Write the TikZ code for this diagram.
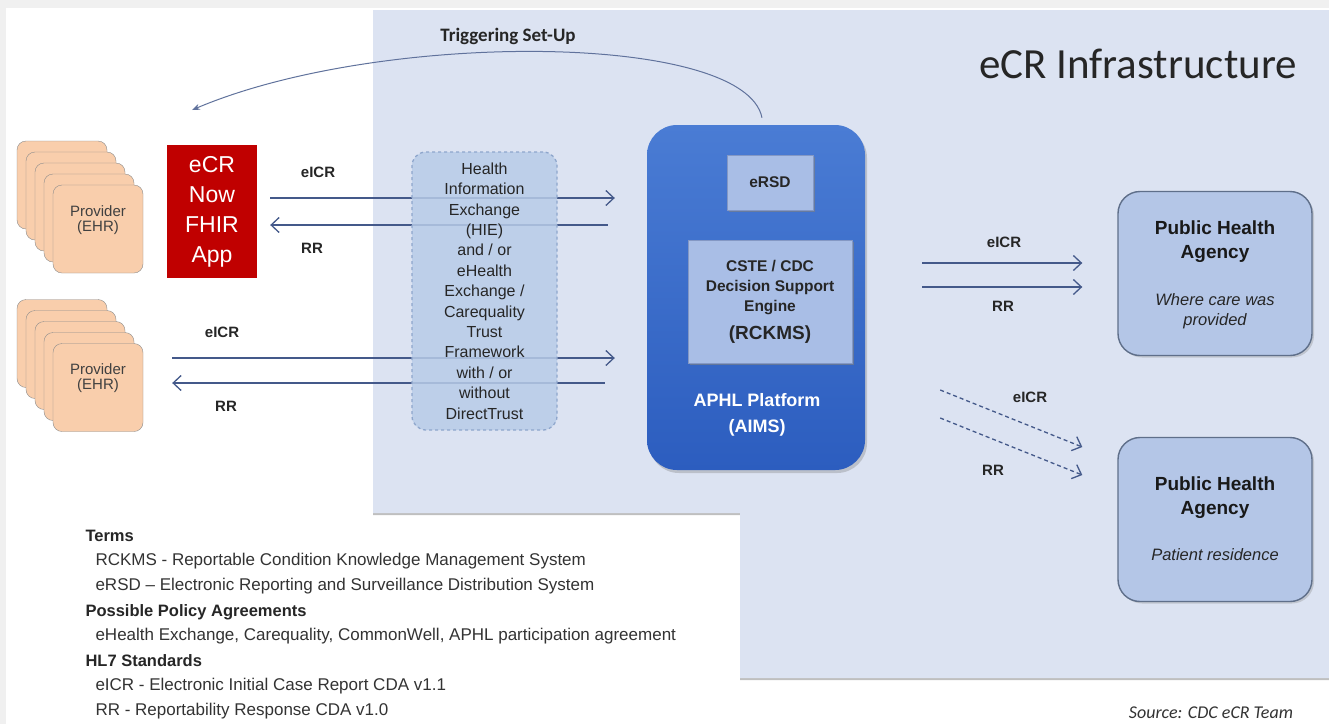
\documentclass[tikz,border=0pt]{standalone}
\usepackage{fontspec}
\setmainfont{Liberation Sans}
\newfontfamily\calib{Carlito}
\usetikzlibrary{arrows.meta,calc,shadows}

\definecolor{panelblue}{HTML}{DCE3F2}
\definecolor{peach}{HTML}{F9CEAC}
\definecolor{appred}{HTML}{C00000}
\definecolor{hieblue}{HTML}{B8CCE8}
\definecolor{hieedge}{HTML}{8EA6CC}
\definecolor{aimstop}{HTML}{4A7CD4}
\definecolor{aimsbot}{HTML}{2C5DBF}
\definecolor{innerblue}{HTML}{A9BEE6}
\definecolor{inneredge}{HTML}{8498C4}
\definecolor{phablue}{HTML}{B4C6E7}
\definecolor{phaedge}{HTML}{5F6F8A}
\definecolor{arrowblue}{HTML}{44598A}

\begin{document}
\begin{tikzpicture}[x=1pt,y=-1pt,
  provider/.style={draw=black!45,fill=peach,rounded corners=9pt,minimum width=90pt,minimum height=88pt},
  provtext/.style={align=center,font=\fontsize{15}{15}\selectfont,text=black!75},
  app/.style={fill=appred,minimum width=90pt,minimum height=133pt,align=center,text=white,
    font=\fontsize{23}{30}\selectfont},
  hie/.style={draw=hieedge,dashed,line width=1.3pt,fill=hieblue,fill opacity=0.85,text opacity=1,
    rounded corners=14pt,minimum width=145pt,minimum height=278pt,align=center,
    font=\fontsize{16}{20.4}\selectfont,text=black!85},
  aims/.style={rounded corners=30pt,top color=aimstop,bottom color=aimsbot,minimum width=218pt,
    minimum height=345pt,drop shadow={shadow xshift=2pt,shadow yshift=-3pt,opacity=0.35}},
  inner/.style={fill=innerblue,draw=inneredge,align=center,text=black!85,
    font=\bfseries\fontsize{15.5}{20}\selectfont,
    drop shadow={shadow xshift=2pt,shadow yshift=-2pt,opacity=0.6}},
  agency/.style={draw=phaedge,line width=1.4pt,fill=phablue,rounded corners=22pt,minimum width=194pt,
    minimum height=164pt,drop shadow={shadow xshift=2pt,shadow yshift=-2pt,opacity=0.3}},
  agencyname/.style={align=center,text=black!90,font=\bfseries\fontsize{19}{24}\selectfont},
  agencynote/.style={align=center,text=black!85,font=\itshape\fontsize{16.5}{20}\selectfont},
  flow/.style={draw=arrowblue,line width=1.3pt,-{Straight Barb[length=8pt,width=15pt,line width=1.3pt]}},
  dflow/.style={flow,dash pattern=on 4pt off 3pt},
  trig/.style={draw=arrowblue!85,line width=1pt,-{Stealth[length=8pt,width=6pt]}},
  lbl/.style={font=\bfseries\fontsize{15}{17}\selectfont,text=black!85},
  termhead/.style={anchor=west,font=\bfseries\fontsize{16.5}{18}\selectfont,text=black!85},
  termitem/.style={anchor=west,font=\fontsize{17}{19}\selectfont,text=black!80}]

  \useasboundingbox (0,0) rectangle (1329,724);
  \fill[black!6] (0,0) rectangle (1329,724);
  \fill[white] (6,8) rectangle (1329,724);
  \fill[panelblue,drop shadow={shadow xshift=0pt,shadow yshift=-2pt,opacity=0.5}]
    (373,10) -- (1329,10) -- (1329,678) -- (740,678) -- (740,513) -- (373,513) -- cycle;

  \node[font=\calib\fontsize{43}{45}\selectfont,text=black!85] (title) at (1138,64) {eCR Infrastructure};
  \node[font=\calib\bfseries\fontsize{19}{21}\selectfont,text=black!85] (trigLbl) at (508,36) {Triggering Set-Up};

  % provider stacks
  \foreach \i in {4,...,0} {
    \node[provider] (provA\i) at (98-9*\i,229-11*\i) {};
    \node[provider] (provB\i) at (98-9*\i,387.5-11*\i) {};
  }
  \node[provtext] (provAtxt) at ($(provA0)+(0,-9)$) {Provider\\(EHR)};
  \node[provtext] (provBtxt) at ($(provB0)+(0,-9)$) {Provider\\(EHR)};

  \node[app] (app) at (212,211.5) {eCR\\Now\\FHIR\\App};

  \node[aims] (aims) at (756,297.5) {};
  \node[inner,minimum width=86pt,minimum height=55pt] (ersd) at (770,182.5) {eRSD};
  \node[inner,minimum width=164pt,minimum height=123pt] (cste) at (770,301.5)
    {CSTE / CDC\\Decision Support\\Engine\\[8pt]{\fontsize{19}{20}\selectfont(RCKMS)}};
  \node[align=center,text=white,font=\bfseries\fontsize{18}{26}\selectfont] (aimsLbl) at (757,415)
    {APHL Platform\\(AIMS)};

  \node[agency] (pha1) at (1215,273.5) {};
  \node[agencyname] (pha1name) at (1215,242) {Public Health\\Agency};
  \node[agencynote] (pha1note) at (1215,311) {Where care was\\provided};
  \node[agency] (pha2) at (1215,519.5) {};
  \node[agencyname] (pha2name) at (1215,497.5) {Public Health\\Agency};
  \node[agencynote] (pha2note) at (1215,555) {Patient residence};

  % left exchange
  \draw[flow] ($(app.east)+(13,-13.5)$) -- ($(aims.west |- app.east)+(-32,-13.5)$);
  \draw[flow] ($(aims.west |- app.east)+(-39,13.5)$) -- ($(app.east)+(13,13.5)$);
  \draw[flow] ($(provB0.east)+(29,-29.5)$) -- ($(aims.west |- provB0.east)+(-32,-29.5)$);
  \draw[flow] ($(aims.west |- provB0.east)+(-42,-4.5)$) -- ($(provB0.east)+(29,-4.5)$);
  \node[lbl] (eicrA) at (318,172) {eICR};
  \node[lbl] (rrA) at (312,248) {RR};
  \node[lbl] (eicrB) at (222,332) {eICR};
  \node[lbl] (rrB) at (226,406) {RR};

  \node[hie] (hie) at (484.5,291) {Health\\Information\\Exchange\\(HIE)\\and / or\\eHealth\\Exchange /\\Carequality\\Trust\\Framework\\with / or\\without\\DirectTrust};

  % right exchange
  \draw[flow] ($(aims.east)+(57,-34.5)$) -- ($(pha1.west |- aims.east)+(-35,-34.5)$);
  \draw[flow] ($(aims.east)+(57,-10.5)$) -- ($(pha1.west |- aims.east)+(-35,-10.5)$);
  \draw[dflow] ($(aims.east)+(75,92.5)$) -- ($(pha2.west)+(-35,-72.5)$);
  \draw[dflow] ($(aims.east)+(75,120.5)$) -- ($(pha2.west)+(-35,-44.5)$);
  \node[lbl] (eicrC) at (1004,242) {eICR};
  \node[lbl] (rrC) at (1003,306) {RR};
  \node[lbl] (eicrD) at (1030,397) {eICR};
  \node[lbl] (rrD) at (993,470) {RR};

  \coordinate (trigEnd) at (192,110);
  \draw[trig] ([xshift=6pt,yshift=7pt]aims.north) .. controls (745,32) and (380,30) .. (trigEnd);

  % terms
  \node[termhead] (terms) at (82,536) {Terms};
  \node[termitem] (t1) at (92,561) {RCKMS - Reportable Condition Knowledge Management System};
  \node[termitem] (t2) at (92,586) {eRSD – Electronic Reporting and Surveillance Distribution System};
  \node[termhead] (policy) at (82,612) {Possible Policy Agreements};
  \node[termitem] (t3) at (92,636) {eHealth Exchange, Carequality, CommonWell, APHL participation agreement};
  \node[termhead] (hl7) at (82,661) {HL7 Standards};
  \node[termitem] (t4) at (92,686) {eICR - Electronic Initial Case Report CDA v1.1};
  \node[termitem] (t5) at (92,711) {RR - Reportability Response CDA v1.0};

  \node[font=\calib\itshape\fontsize{18}{20}\selectfont,text=black!80] (source) at (1211,713) {Source: CDC eCR Team};
\end{tikzpicture}
\end{document}
